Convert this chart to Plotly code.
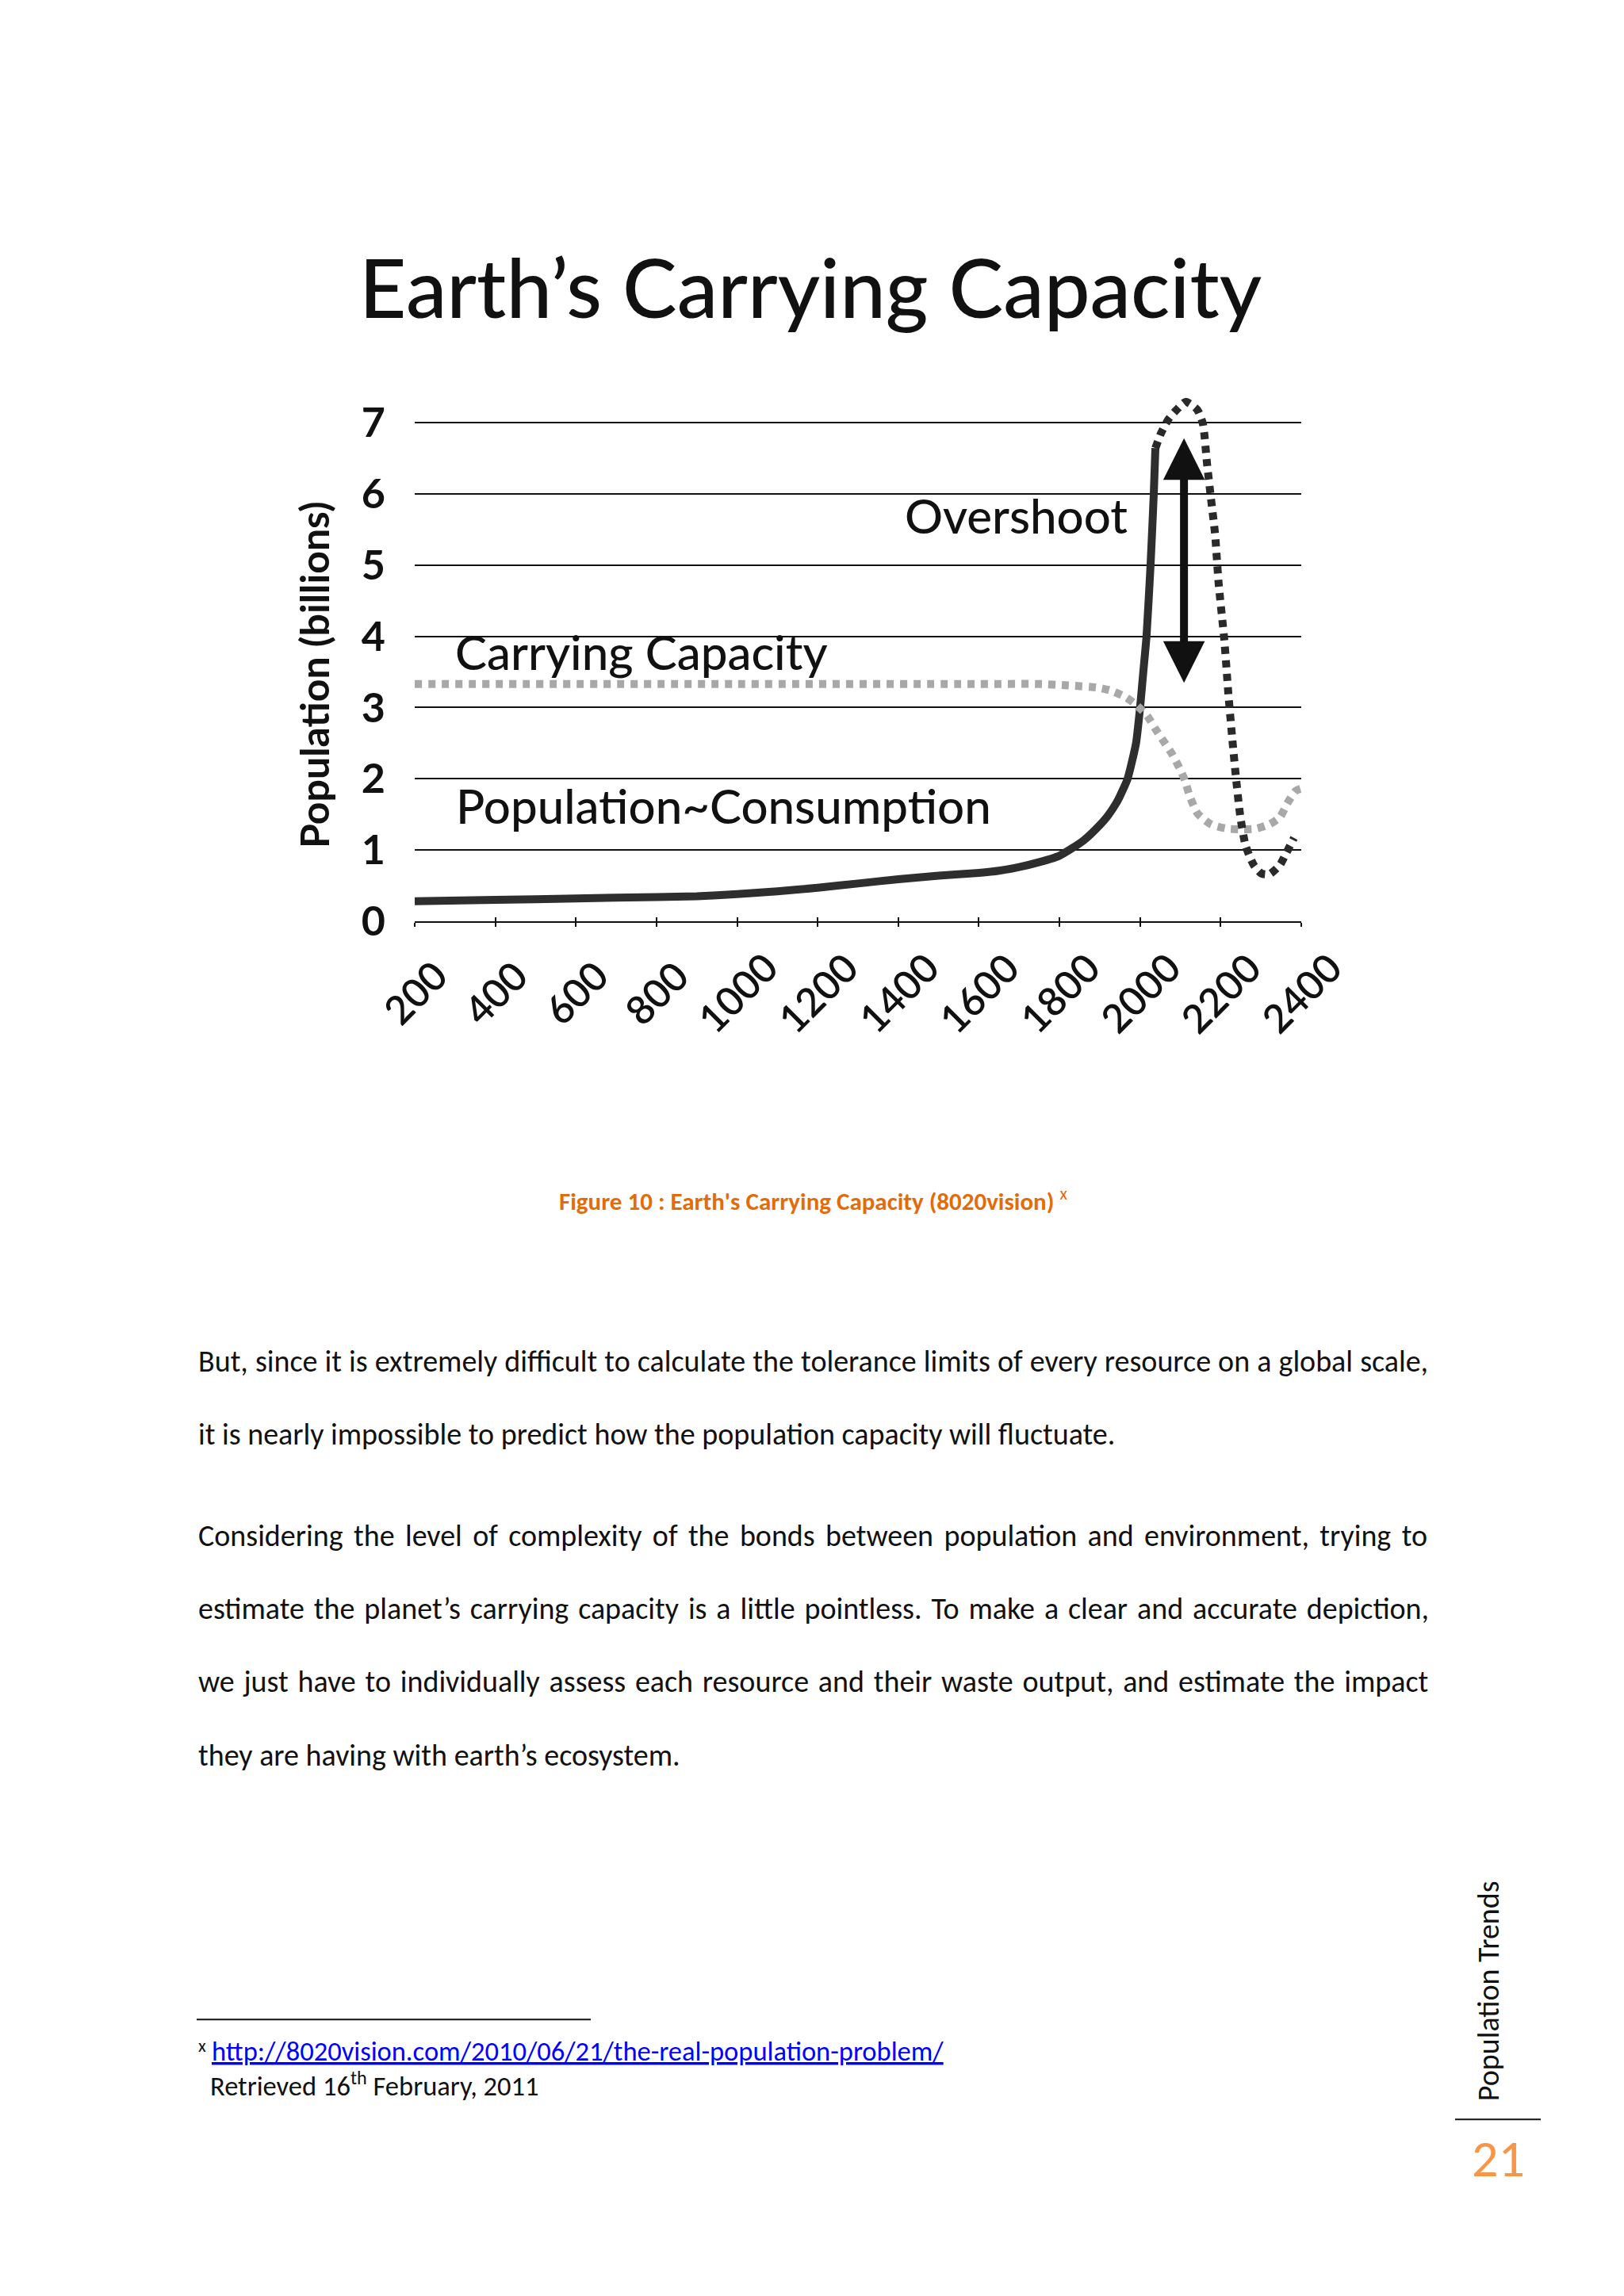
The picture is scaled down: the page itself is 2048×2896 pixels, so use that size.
import plotly.graph_objects as go

# ---------------- data ----------------
pop_years = [200, 400, 600, 800, 900, 1000, 1100, 1200, 1300, 1400, 1500, 1600, 1650, 1700,
             1750, 1800, 1830, 1861, 1900, 1920, 1946, 1969, 1990, 2000, 2008, 2016, 2026, 2034, 2038]
pop_vals = [0.28, 0.30, 0.32, 0.34, 0.35, 0.38, 0.42, 0.47, 0.53, 0.59, 0.64, 0.68, 0.71, 0.76,
            0.83, 0.92, 1.02, 1.14, 1.35, 1.48, 1.71, 2.00, 2.50, 3.00, 3.50, 4.00, 5.00, 6.00, 6.64]

over_years = [2038, 2052, 2071, 2091, 2113, 2142, 2156, 2166, 2176, 2186, 2195, 2209, 2219,
              2229, 2239, 2249, 2262, 2282, 2301, 2321, 2347, 2363, 2382]
over_vals = [6.64, 6.85, 7.05, 7.18, 7.29, 7.18, 6.98, 6.43, 5.93, 5.44, 4.74, 3.95, 3.20,
             2.55, 1.96, 1.46, 1.06, 0.79, 0.67, 0.66, 0.79, 0.96, 1.17]

cap_years = [200, 1000, 1600, 1749, 1821, 1894, 1926, 1963, 1992, 2018, 2038, 2058, 2078, 2097,
             2111, 2123, 2143, 2176, 2215, 2254, 2288, 2321, 2347, 2366, 2386, 2400]
cap_vals = [3.33, 3.33, 3.33, 3.33, 3.31, 3.28, 3.24, 3.15, 3.03, 2.88, 2.70, 2.53, 2.36, 2.16,
            1.98, 1.76, 1.51, 1.36, 1.30, 1.29, 1.30, 1.36, 1.46, 1.66, 1.83, 1.86]

x_ticks = [200, 400, 600, 800, 1000, 1200, 1400, 1600, 1800, 2000, 2200, 2400]
x_tick_labels = [str(v) for v in x_ticks]
y_ticks = [0, 1, 2, 3, 4, 5, 6, 7]

chart_title = "Earth’s Carrying Capacity"
y_title = "Population (billions)"
curve_labels = ["Overshoot", "Carrying Capacity", "Population~Consumption"]
curve_label_x = [1693, 763, 967]
curve_label_y = [5.70, 3.78, 1.62]
arrow_year = 2109
arrow_top = 6.78
arrow_bottom = 3.33

caption = "Figure 10 : Earth's Carrying Capacity (8020vision)"
body_lines = [
    "But, since it is extremely difficult to calculate the tolerance limits of every resource on a global scale,",
    "it is nearly impossible to predict how the population capacity will fluctuate.",
    "Considering the level of complexity of the bonds between population and environment, trying to",
    "estimate the planet’s carrying capacity is a little pointless. To make a clear and accurate depiction,",
    "we just have to individually assess each resource and their waste output, and estimate the impact",
    "they are having with earth’s ecosystem.",
]
body_justify = [True, False, True, True, True, False]
footnote_url = "http://8020vision.com/2010/06/21/the-real-population-problem/"
footnote_text = "Retrieved 16<sup>th</sup> February, 2011"
side_text = "Population Trends"
page_number = "21"

# ---------------- layout geometry (page pixels) ----------------
OFF = 8                      # default body margin of the html page
W, H = 2048 - 2 * OFF, 2896 - 2 * OFF
PL, PR, PB = 523, 1641, 1162
UNIT = (PB - 533) / 7.0
Y_MAX = 7.5
PT = PB - Y_MAX * UNIT


def xp(px):
    return (px - PL) / (PR - PL)


def yp(py):
    return (PB - py) / (PB - PT)


GILL = "Gill Sans, Gill Sans MT, Lato, sans-serif"
BODY = "Calibri, Carlito, Lato, sans-serif"

fig = go.Figure()

fig.add_trace(go.Scatter(x=pop_years, y=pop_vals, mode="lines",
                         line=dict(color="#2e2e2e", width=10, shape="spline", smoothing=0.5),
                         name="Population~Consumption", showlegend=False, hoverinfo="skip"))
fig.add_trace(go.Scatter(x=cap_years, y=cap_vals, mode="lines",
                         line=dict(color="#a8a8a8", width=10, dash="9px,8px", shape="spline", smoothing=0.6),
                         name="Carrying Capacity", showlegend=False, hoverinfo="skip"))
fig.add_trace(go.Scatter(x=over_years, y=over_vals, mode="lines",
                         line=dict(color="#2a2a2a", width=10, dash="9px,8px", shape="spline", smoothing=0.6),
                         name="Overshoot", showlegend=False, hoverinfo="skip"))
# invisible trace for the tick overlay axis
fig.add_trace(go.Scatter(x=[x_ticks[0]], y=[0], xaxis="x2", mode="markers",
                         marker=dict(opacity=0), showlegend=False, hoverinfo="skip"))

annotations = []

# chart title
annotations.append(dict(text=chart_title, xref="paper", yref="paper", x=xp(1022), y=yp(361),
                        xanchor="center", yanchor="middle", showarrow=False,
                        font=dict(family=GILL, size=103, color="#111111", weight=500)))
# y axis title
annotations.append(dict(text=y_title, xref="paper", yref="paper", x=xp(396), y=yp(851),
                        xanchor="center", yanchor="middle", showarrow=False, textangle=-90,
                        font=dict(family=GILL, size=50, color="#111111", weight=700)))
# x tick labels (rotated, centred under the ticks)
for v, lab in zip(x_ticks, x_tick_labels):
    annotations.append(dict(text=lab, xref="x", yref="paper", x=v, y=yp(1252),
                            xanchor="center", yanchor="middle", showarrow=False, textangle=-45,
                            font=dict(family=GILL, size=50, color="#111111", weight=600)))
# curve labels
for t, lx, ly in zip(curve_labels, curve_label_x, curve_label_y):
    annotations.append(dict(text=t, xref="x", yref="y", x=lx, y=ly,
                            xanchor="center", yanchor="middle", showarrow=False,
                            font=dict(family=GILL, size=60, color="#111111", weight=500)))
# overshoot double arrow
annotations.append(dict(text="", xref="x", yref="y", x=arrow_year, y=arrow_top,
                        axref="x", ayref="y", ax=arrow_year, ay=arrow_bottom,
                        showarrow=True, arrowhead=2, startarrowhead=2, arrowside="end+start",
                        arrowwidth=10, arrowsize=1.05, startarrowsize=1.05, arrowcolor="#111111"))

# caption
annotations.append(dict(text="<b>" + caption + "</b> <sup>x</sup>", xref="paper", yref="paper",
                        x=xp(703), y=yp(1513), xanchor="left", yanchor="middle", showarrow=False,
                        font=dict(family=BODY, size=31, color="#E36C0A")))
# body text (justified lines get extra word spacing)
body_y = [1717, 1809, 1937, 2029, 2121, 2214]
word_gap = [0.5, 0, 4.8, 3.3, 3.2, 0]
for line, by, just, gap in zip(body_lines, body_y, body_justify, word_gap):
    txt = line
    if just and gap > 0:
        txt = "<span style='word-spacing:%.1fpx'>%s</span>" % (gap, line)
    annotations.append(dict(text=txt, xref="paper", yref="paper", x=xp(248), y=yp(by),
                            xanchor="left", yanchor="middle", showarrow=False,
                            font=dict(family=BODY, size=38, color="#111111")))
# footnote
annotations.append(dict(text="<sup>x</sup>", xref="paper", yref="paper", x=xp(248), y=yp(2580),
                        xanchor="left", yanchor="middle", showarrow=False,
                        font=dict(family=BODY, size=32, color="#111111")))
annotations.append(dict(text="<a href='" + footnote_url + "'><span style='color:#0000FF'>"
                             + footnote_url + "</span></a>",
                        xref="paper", yref="paper", x=xp(265), y=yp(2587),
                        xanchor="left", yanchor="middle", showarrow=False,
                        font=dict(family=BODY, size=34.5, color="#0000FF", lineposition="under")))
annotations.append(dict(text=footnote_text, xref="paper", yref="paper", x=xp(263), y=yp(2629),
                        xanchor="left", yanchor="middle", showarrow=False,
                        font=dict(family=BODY, size=34.5, color="#111111")))
# side header and page number
annotations.append(dict(text=side_text, xref="paper", yref="paper", x=xp(1877), y=yp(2511),
                        xanchor="center", yanchor="middle", showarrow=False, textangle=-90,
                        font=dict(family=BODY, size=38, color="#111111")))
annotations.append(dict(text=page_number, xref="paper", yref="paper", x=xp(1889), y=yp(2722),
                        xanchor="center", yanchor="middle", showarrow=False,
                        font=dict(family=BODY, size=66, color="#F79646", weight=500)))

shapes = [
    dict(type="line", xref="paper", yref="paper", x0=xp(248), x1=xp(745), y0=yp(2547), y1=yp(2547),
         line=dict(color="#111111", width=2)),
    dict(type="line", xref="paper", yref="paper", x0=xp(1835), x1=xp(1943), y0=yp(2673), y1=yp(2673),
         line=dict(color="#111111", width=2)),
]

fig.update_layout(
    width=W, height=H,
    margin=dict(l=PL - OFF, r=W - (PR - OFF), t=PT - OFF, b=H - (PB - OFF), autoexpand=False),
    paper_bgcolor="white", plot_bgcolor="white",
    showlegend=False,
    xaxis=dict(range=[200, 2400], showgrid=False, zeroline=False, showline=True,
               linecolor="#111111", linewidth=1.5, ticks="outside", ticklen=5, tickwidth=1.5,
               tickcolor="#111111", tickvals=x_ticks, showticklabels=False, fixedrange=True),
    xaxis2=dict(overlaying="x", matches="x", anchor="y", side="bottom", showgrid=False,
                zeroline=False, showline=False, ticks="inside", ticklen=5, tickwidth=1.5,
                tickcolor="#111111", tickvals=x_ticks, showticklabels=False, fixedrange=True),
    yaxis=dict(range=[0, Y_MAX], tickvals=y_ticks, showgrid=True, gridcolor="#111111",
               gridwidth=1.5, zeroline=False, showline=False, ticks="",
               ticklabelstandoff=36,
               tickfont=dict(family=GILL, size=52, color="#111111", weight=700), fixedrange=True),
    annotations=annotations,
    shapes=shapes,
)

fig.write_html("out.html", config={"displayModeBar": False, "responsive": False})
